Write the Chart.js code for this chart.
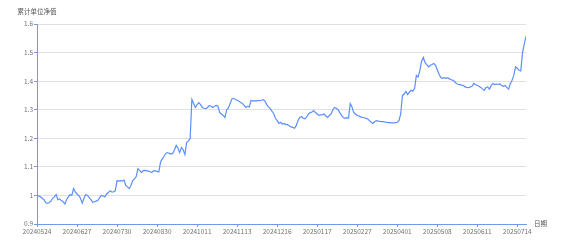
<!DOCTYPE html>
<html>
<head>
<meta charset="utf-8">
<script src="https://cdn.jsdelivr.net/npm/chart.js@4"></script>
<style>
  body { margin: 0; background: #fff; }
  #wrap { width: 564px; height: 248px; }
</style>
</head>
<body>
<div id="wrap"><canvas id="myChart" width="564" height="248"></canvas></div>
<script>
// tick labels along the date axis (one every 23 trading days)
const tickLabels = ['20240524', '20240627', '20240730', '20240830', '20241011', '20241113', '20241216',
  '20250117', '20250227', '20250401', '20250508', '20250611', '20250714'];
const tickEvery = 23;
const yTicks = [0.9, 1.0, 1.1, 1.2, 1.3, 1.4, 1.5, 1.6];
const yName = '累计单位净值';
const xName = '日期';

// accumulated unit NAV, one value per trading day
const navValues = [
  1.000, 0.998, 0.995, 0.990, 0.985, 0.975, 0.972, 0.975, 0.980, 0.990, 0.995, 1.003, 0.985, 0.988, 0.982, 0.978, 0.970, 0.985, 0.995, 1.003, 1.000, 1.024, 1.012,
  1.005, 1.000, 0.990, 0.973, 0.990, 1.003, 1.000, 0.992, 0.985, 0.976, 0.978, 0.980, 0.983, 0.992, 1.000, 0.998, 0.995, 1.005, 1.010, 1.016, 1.012, 1.012, 1.017,
  1.052, 1.050, 1.052, 1.050, 1.054, 1.035, 1.030, 1.024, 1.035, 1.052, 1.058, 1.066, 1.094, 1.088, 1.080, 1.087, 1.088, 1.087, 1.085, 1.083, 1.080, 1.087, 1.086,
  1.084, 1.082, 1.117, 1.128, 1.137, 1.147, 1.150, 1.147, 1.145, 1.147, 1.160, 1.175, 1.165, 1.150, 1.168, 1.160, 1.143, 1.186, 1.190, 1.200, 1.336, 1.322, 1.308,
  1.318, 1.325, 1.318, 1.308, 1.305, 1.304, 1.308, 1.315, 1.312, 1.308, 1.312, 1.315, 1.312, 1.290, 1.285, 1.280, 1.273, 1.300, 1.306, 1.322, 1.338, 1.340, 1.336,
  1.333, 1.330, 1.325, 1.322, 1.315, 1.308, 1.312, 1.310, 1.333, 1.330, 1.332, 1.330, 1.333, 1.332, 1.333, 1.335, 1.330, 1.318, 1.310, 1.304, 1.295, 1.287, 1.270,
  1.262, 1.252, 1.256, 1.250, 1.252, 1.248, 1.248, 1.243, 1.240, 1.238, 1.235, 1.245, 1.262, 1.273, 1.276, 1.270, 1.268, 1.275, 1.285, 1.290, 1.292, 1.297, 1.290,
  1.285, 1.280, 1.282, 1.283, 1.285, 1.278, 1.273, 1.280, 1.285, 1.300, 1.308, 1.305, 1.300, 1.290, 1.280, 1.273, 1.270, 1.272, 1.270, 1.322, 1.310, 1.290, 1.285,
  1.280, 1.278, 1.275, 1.273, 1.272, 1.270, 1.268, 1.262, 1.256, 1.252, 1.258, 1.262, 1.260, 1.259, 1.258, 1.258, 1.257, 1.256, 1.255, 1.255, 1.254, 1.254, 1.255,
  1.256, 1.262, 1.285, 1.350, 1.355, 1.364, 1.353, 1.362, 1.368, 1.365, 1.375, 1.420, 1.415, 1.437, 1.470, 1.483, 1.465, 1.458, 1.450, 1.455, 1.458, 1.462, 1.455,
  1.440, 1.425, 1.413, 1.410, 1.412, 1.410, 1.412, 1.408, 1.405, 1.403, 1.398, 1.392, 1.389, 1.388, 1.386, 1.385, 1.380, 1.378, 1.377, 1.380, 1.382, 1.392, 1.388,
  1.385, 1.382, 1.378, 1.372, 1.368, 1.378, 1.380, 1.372, 1.385, 1.392, 1.388, 1.390, 1.389, 1.390, 1.385, 1.382, 1.385, 1.378, 1.372, 1.392, 1.403, 1.420, 1.450,
  1.445, 1.438, 1.436, 1.500, 1.530, 1.557
];

const lineColor = '#5B8FF9';
const axisColor = '#6E9BE8';
const textColor = '#6E7079';

Chart.defaults.font.family = '"Noto Sans CJK SC", "Noto Sans", sans-serif';
Chart.defaults.font.size = 6.5;
Chart.defaults.color = textColor;

// axis names, drawn like echarts' nameLocation: 'end'
const axisNames = {
  id: 'axisNames',
  afterDraw(chart) {
    const { ctx, chartArea } = chart;
    ctx.save();
    ctx.fillStyle = '#555';
    ctx.font = '6.5px "Noto Sans CJK SC", sans-serif';
    ctx.textAlign = 'center';
    ctx.textBaseline = 'middle';
    ctx.fillText(yName, chartArea.left, chartArea.top - 12);
    ctx.textAlign = 'left';
    ctx.fillText(xName, chartArea.right + 8, chartArea.bottom);
    ctx.restore();
  }
};

const ctx = document.getElementById('myChart');
new Chart(ctx, {
  type: 'line',
  data: {
    datasets: [{
      label: yName,
      data: navValues.map((v, i) => ({ x: i, y: v })),
      borderColor: lineColor,
      backgroundColor: lineColor,
      borderWidth: 1.2,
      pointRadius: 0,
      tension: 0,
    }],
  },
  options: {
    responsive: false,
    animation: false,
    devicePixelRatio: 1,
    layout: { padding: { left: 0, right: 38, top: 24, bottom: 0 } },
    plugins: {
      legend: { display: false },
      tooltip: { enabled: false },
    },
    scales: {
      x: {
        type: 'linear',
        min: 0,
        max: navValues.length - 1,
        afterBuildTicks: (scale) => {
          scale.ticks = tickLabels.map((_, i) => ({ value: i * tickEvery }));
        },
        afterFit: (scale) => { scale.height = 24; },
        ticks: {
          autoSkip: false,
          maxRotation: 0,
          padding: 1,
          color: textColor,
          callback: (v) => tickLabels[Math.round(v / tickEvery)],
        },
        grid: {
          drawOnChartArea: false,
          drawTicks: true,
          tickLength: 3,
          tickColor: axisColor,
        },
        border: { color: axisColor, width: 1 },
      },
      y: {
        type: 'linear',
        min: 0.9,
        max: 1.6,
        afterBuildTicks: (scale) => {
          scale.ticks = yTicks.map((v) => ({ value: v }));
        },
        afterFit: (scale) => { scale.width = 37; },
        ticks: {
          padding: 1,
          color: textColor,
          callback: (v) => String(Math.round(v * 10) / 10),
        },
        grid: {
          color: '#E0E0E0',
          lineWidth: 1,
          drawTicks: true,
          tickLength: 3,
          tickColor: axisColor,
        },
        border: { color: axisColor, width: 1 },
      },
    },
  },
  plugins: [axisNames],
});
</script>
</body>
</html>
